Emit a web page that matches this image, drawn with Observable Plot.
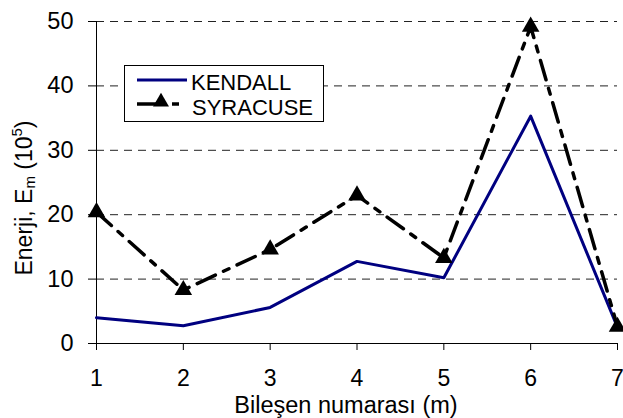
<!DOCTYPE html>
<html><head><meta charset="utf-8">
<script src="https://cdn.jsdelivr.net/npm/d3@7"></script>
<script src="https://cdn.jsdelivr.net/npm/@observablehq/plot@0.6"></script>
<style>body{margin:0;background:#fff;font-family:"Liberation Sans",Arial,sans-serif}</style>
</head><body><div id="chart"></div>
<script>
const components = [1, 2, 3, 4, 5, 6, 7];
const kendall = [4.0, 2.75, 5.6, 12.75, 10.2, 35.3, 2.5];
const syracuse = [20.4, 8.3, 14.6, 23.0, 13.3, 49.2, 2.6];
const yTicks = [0, 10, 20, 30, 40, 50];
const seriesNames = ["KENDALL", "SYRACUSE"];

const kData = components.map((m, i) => ({m, v: kendall[i]}));
const sData = components.map((m, i) => ({m, v: syracuse[i]}));

const W = 623, H = 418;
const ff = '"Liberation Sans", Arial, sans-serif';
const plot = Plot.plot({
  width: W, height: H,
  marginLeft: 96, marginRight: 6, marginTop: 21, marginBottom: 75,
  style: {fontFamily: ff, fontSize: "23px", color: "#000", background: "#fff"},
  x: {domain: [1, 7], label: null},
  y: {domain: [0, 50], label: null},
  marks: [
    Plot.ruleY(yTicks.filter(d => d > 0), {stroke: "#222", strokeWidth: 1, strokeDasharray: "8,6"}),
    Plot.axisX({ticks: components, tickFormat: d => String(d), tickSize: 7, tickPadding: 19, fontSize: 23, label: null, stroke: "#000", strokeOpacity: 1}),
    Plot.axisY({ticks: yTicks, tickFormat: d => String(d), tickSize: 8, tickPadding: 15, fontSize: 23.5, label: null, stroke: "#000", strokeOpacity: 1}),
    Plot.ruleX([1], {stroke: "#000", strokeWidth: 1}),
    Plot.ruleY([0], {stroke: "#000", strokeWidth: 1}),
    Plot.line(kData, {x: "m", y: "v", stroke: "#000080", strokeWidth: 3}),
    Plot.line(sData, {x: "m", y: "v", stroke: "#000", strokeWidth: 3.5, strokeDasharray: "20,9,6,9"}),
    Plot.dot(sData, {x: "m", y: "v", symbol: "triangle", fill: "#000", r: 6.5})
  ]
});
document.getElementById("chart").appendChild(plot);

const svg = d3.select(plot);
// x axis title
svg.append("text").attr("x", 346).attr("y", 413).attr("text-anchor", "middle")
  .attr("font-family", ff).attr("font-size", 23.5).text("Bileşen numarası (m)");
// y axis title
const yt = svg.append("text").attr("transform", "translate(32,198) rotate(-90)")
  .attr("text-anchor", "middle").attr("font-family", ff).attr("font-size", 23);
yt.append("tspan").text("Enerji, E");
yt.append("tspan").attr("font-size", 15).attr("dy", 3).text("m");
yt.append("tspan").attr("dy", -3).text(" (10");
yt.append("tspan").attr("font-size", 15).attr("dy", -10).text("5");
yt.append("tspan").attr("dy", 10).text(")");
// legend
const lg = svg.append("g").attr("text-anchor", "start");
lg.append("rect").attr("x", 124.5).attr("y", 65.5).attr("width", 199).attr("height", 56)
  .attr("fill", "#fff").attr("stroke", "#000").attr("stroke-width", 1);
lg.append("line").attr("x1", 137).attr("x2", 187).attr("y1", 80).attr("y2", 80)
  .attr("stroke", "#000080").attr("stroke-width", 3);
lg.append("line").attr("x1", 137).attr("x2", 162).attr("y1", 104).attr("y2", 104)
  .attr("stroke", "#000").attr("stroke-width", 3.5);
lg.append("line").attr("x1", 172).attr("x2", 179).attr("y1", 104).attr("y2", 104)
  .attr("stroke", "#000").attr("stroke-width", 3.5);
lg.append("path").attr("d", d3.symbol(d3.symbolTriangle, 110)()).attr("transform", "translate(161,102)").attr("fill", "#000");
lg.append("text").attr("x", 191).attr("y", 90).attr("font-family", ff).attr("font-size", 22).text(seriesNames[0]);
lg.append("text").attr("x", 192).attr("y", 115).attr("font-family", ff).attr("font-size", 22).text(seriesNames[1]);
</script></body></html>
